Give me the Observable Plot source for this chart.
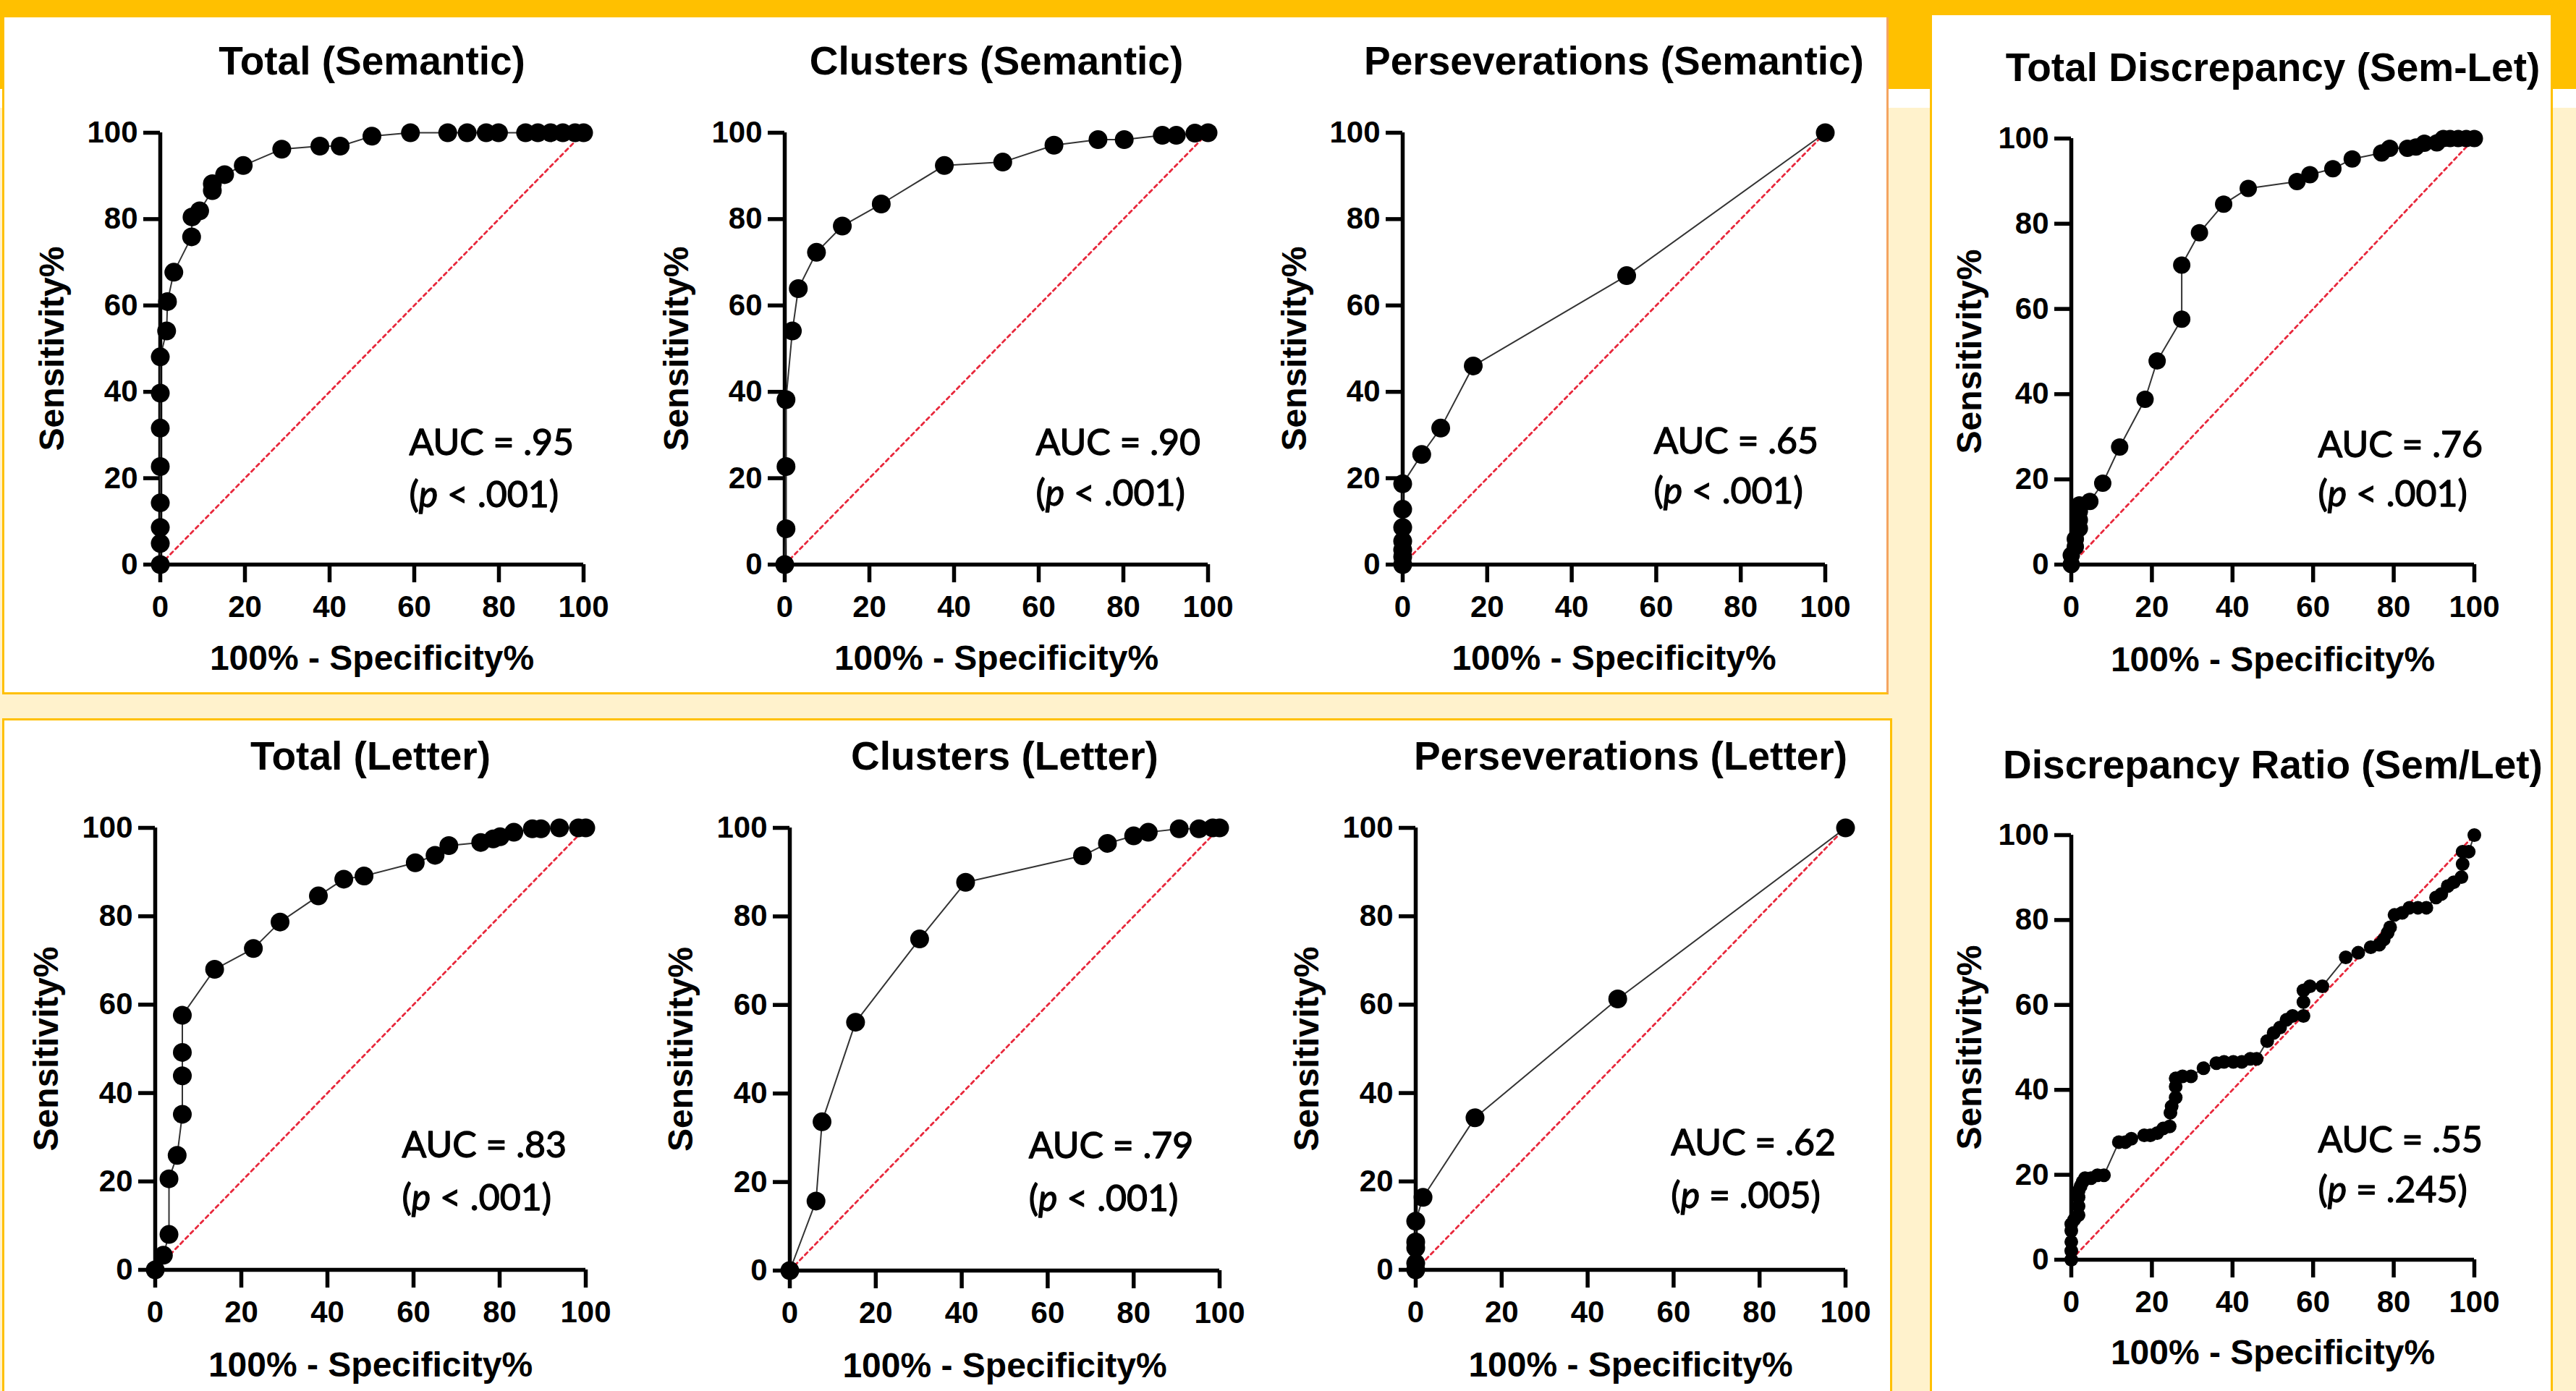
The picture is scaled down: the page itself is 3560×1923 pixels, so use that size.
<!DOCTYPE html>
<html><head><meta charset="utf-8">
<script src="https://cdn.jsdelivr.net/npm/d3@7"></script>
<script src="https://cdn.jsdelivr.net/npm/@observablehq/plot@0.6"></script>
<style>
html,body{margin:0;padding:0}
body{width:3560px;height:1923px;position:relative;overflow:hidden;background:#FFF2CC;font-family:"Liberation Sans",Arial,sans-serif}
.blk{position:absolute}
.panel{position:absolute;background:#fff;box-sizing:border-box;border:3px solid #FFC000}
.chart{position:absolute}
.chart svg{max-width:none;overflow:visible}
</style></head><body>
<div class="blk" style="left:0;top:0;width:3560px;height:123px;background:#FFC000"></div>
<div class="blk" style="left:0;top:123px;width:3560px;height:26px;background:#fff"></div>
<div class="panel" style="left:3px;top:24px;width:2607px;height:936px;border-top:none;border-right-color:#F4A460"></div>
<div class="panel" style="left:3px;top:993px;width:2612px;height:950px"></div>
<div class="panel" style="left:2667px;top:21px;width:861px;height:1922px;border-top:none"></div>
<div id="charts"></div>
<script>
// ---------- shared axis content ----------
const xTicks = [0, 20, 40, 60, 80, 100];
const yTicks = [0, 20, 40, 60, 80, 100];
const chanceLine = [0, 100];
const xLabel = "100% - Specificity%";
const yLabel = "Sensitivity%";

const titles = [
  "Total (Semantic)", "Clusters (Semantic)", "Perseverations (Semantic)", "Total Discrepancy (Sem-Let)",
  "Total (Letter)", "Clusters (Letter)", "Perseverations (Letter)", "Discrepancy Ratio (Sem/Let)"
];
const aucLabels = ["AUC = .95", "AUC = .90", "AUC = .65", "AUC = .76", "AUC = .83", "AUC = .79", "AUC = .62", "AUC = .55"];
const pLabels = ["(p < .001)", "(p < .001)", "(p < .001)", "(p < .001)", "(p < .001)", "(p < .001)", "(p = .005)", "(p = .245)"];

// ---------- ROC data: 100% - specificity (FPR) and sensitivity (TPR) ----------
const totalSemFPR = [0,0,0,0,0,0,0,0,1.5,1.7,3.2,7.4,7.5,9.3,12.3,12.3,15.2,19.6,28.7,37.7,42.5,50,59.1,67.9,72.5,77,79.9,86.3,89.2,92.2,95.1,98,100];
const totalSemTPR = [0,4.9,8.6,14.3,22.7,31.6,39.7,48.1,54.1,60.9,67.7,75.9,80.5,81.9,86.6,88.2,90.3,92.4,96.2,96.9,96.9,99.2,100,100,100,100,100,100,100,100,100,100,100];

const clustSemFPR = [0,0.3,0.3,0.3,1.8,3.2,7.5,13.6,22.8,37.7,51.5,63.6,74,80.2,89.2,92.5,96.9,100];
const clustSemTPR = [0,8.3,22.7,38.2,54.1,63.9,72.3,78.4,83.5,92.4,93.2,97.1,98.4,98.4,99.4,99.4,99.9,100];

const persSemFPR = [0,0,0,0,0,0,0,4.5,9.0,16.7,53,100];
const persSemTPR = [0,1.8,3.4,5.4,8.6,12.8,18.7,25.5,31.6,46,66.9,100];

const discSemLetFPR = [0,0,1,1,2,2,2,2,4.6,7.8,12,18.3,21.3,27.4,27.4,31.8,37.8,43.9,56,59.2,64.9,69.7,77,79,83.4,85.5,87.6,90.7,92.3,94,96,98,100];
const discSemLetTPR = [0,2.2,4.2,6,8.5,10.5,12.5,14,14.8,19.1,27.6,38.8,47.8,57.6,70.3,77.9,84.6,88.3,89.9,91.5,92.9,95.2,96.6,97.7,97.7,98,98.9,99,100,100,100,100,100];

const totalLetFPR = [0,1.9,3.2,3.2,5.1,6.3,6.3,6.3,6.3,13.8,22.8,29,37.9,43.8,48.5,60.4,65,68.2,75.6,78.5,80.1,83.3,87.6,89.6,93.9,98.3,100];
const totalLetTPR = [0,3.3,8,20.6,25.9,35.2,43.9,49.2,57.6,68,72.7,78.7,84.6,88.4,89.1,92.1,93.8,96,96.7,97.5,98,99,99.8,99.8,100,100,100];

const clustLetFPR = [0,6.1,7.5,15.3,30.2,40.9,68.1,73.9,80,83.4,90.6,95.2,98.4,100];
const clustLetTPR = [0,15.7,33.6,56.1,74.9,87.7,93.7,96.5,98.2,99,99.8,99.8,100,100];

const persLetFPR = [0,0,0,0,0,1.7,13.8,47,100];
const persLetTPR = [0,1.5,5,6.3,11,16.4,34.4,61.3,100];

const ratioFPR = [0,0,0,0,0,0.7,1.8,1.8,1.8,1.8,2.3,2.8,3.4,4.9,6.5,8.1,11.8,13.4,14.9,18.1,19.6,21.3,22.8,24.4,24.6,24.9,25.9,25.9,25.9,27.6,29.7,32.8,36,37.9,40.2,42.3,44.4,46,48.6,50.2,51.8,53.4,54.9,57.6,57.6,57.6,59.2,62.3,68.1,71.2,74.3,76.4,77.5,78.5,79.1,80.2,82.1,83.9,86,88.1,90.5,91.8,93.4,94.9,96.8,97.1,97.1,98.6,100];
const ratioTPR = [0,2.1,4.2,6.8,8.4,9.4,10.5,12.6,14.7,16.2,17.3,18.3,19.2,19.2,19.9,19.9,27.7,27.7,28.5,29.3,29.3,29.8,30.9,31.4,34.6,36.1,38.2,40.8,42.7,43.2,43.2,45.1,46.3,46.6,46.6,46.6,47.3,47.3,51.5,53.4,54.7,56.5,57.4,57.4,60.7,63.4,64.4,64.4,71.2,72.3,73.6,74.2,75.4,77,78.3,81.2,81.7,82.9,82.9,82.9,85.3,86.1,88,88.9,90.1,93.2,96.1,96.1,100];

const seriesFPR = [totalSemFPR, clustSemFPR, persSemFPR, discSemLetFPR, totalLetFPR, clustLetFPR, persLetFPR, ratioFPR];
const seriesTPR = [totalSemTPR, clustSemTPR, persSemTPR, discSemLetTPR, totalLetTPR, clustLetTPR, persLetTPR, ratioTPR];

// ---------- layout (page pixels) ----------
const layout = [
  {x0: 221,  y100: 182.5,  W: 585, H: 597, r: 13,   ax: 58.8, ay1: 28.0, ay2: 16.0, yOff: 149, tOff: 98, xOff: 130},
  {x0: 1084, y100: 182.5,  W: 585, H: 597, r: 13,   ax: 59.3, ay1: 28.0, ay2: 16.3, yOff: 149, tOff: 98, xOff: 130},
  {x0: 1938, y100: 182.5,  W: 584, H: 597, r: 13,   ax: 59.4, ay1: 28.4, ay2: 16.8, yOff: 149, tOff: 98, xOff: 130},
  {x0: 2862, y100: 190.6,  W: 557, H: 589, r: 12,   ax: 61.2, ay1: 27.9, ay2: 16.3, yOff: 140, tOff: 97, xOff: 132},
  {x0: 213.5,y100: 1144.3, W: 595, H: 611, r: 13,   ax: 57.3, ay1: 28.1, ay2: 16.1, yOff: 150, tOff: 98, xOff: 132},
  {x0: 1091, y100: 1144.3, W: 594, H: 612, r: 13,   ax: 55.6, ay1: 28.1, ay2: 16.1, yOff: 150, tOff: 98, xOff: 132},
  {x0: 1956, y100: 1144.3, W: 594, H: 611, r: 13,   ax: 59.4, ay1: 28.6, ay2: 16.6, yOff: 150, tOff: 98, xOff: 132},
  {x0: 2862, y100: 1153.5, W: 557, H: 587, r: 9.5,  ax: 61.2, ay1: 28.0, ay2: 16.2, yOff: 140, tOff: 96, xOff: 129}
];

const ML = 210, MT = 140, MR = 50, MB = 175;
const boldFont = "'Liberation Sans', Arial, sans-serif";
const aucFont = "Lato, 'Open Sans', sans-serif";
const container = document.getElementById("charts");

titles.forEach((title, i) => {
  const L = layout[i];
  const data = seriesFPR[i].map((x, j) => ({x, y: seriesTPR[i][j]}));
  const plot = Plot.plot({
    width: ML + L.W + MR,
    height: MT + L.H + MB,
    marginLeft: ML, marginTop: MT, marginRight: MR, marginBottom: MB,
    x: {domain: [0, 100], label: null},
    y: {domain: [0, 100], label: null},
    style: {background: "transparent", fontFamily: boldFont, fontSize: "42px", fontWeight: "bold", color: "#000", overflow: "visible"},
    marks: [
      Plot.line(chanceLine, {x: d => d, y: d => d, stroke: "#E8283C", strokeWidth: 2.8, strokeDasharray: "5 5"}),
      Plot.ruleX([0], {stroke: "#000", strokeWidth: 5.5}),
      Plot.ruleY([0], {stroke: "#000", strokeWidth: 5.5}),
      Plot.axisX({ticks: xTicks, tickSize: 25, tickPadding: 18, strokeWidth: 5.5, fontSize: 42, fontWeight: "bold", fill: "#000", label: null}),
      Plot.axisY({ticks: yTicks, tickSize: 23, tickPadding: 8, strokeWidth: 5.5, fontSize: 42, fontWeight: "bold", fill: "#000", label: null}),
      Plot.line(data, {x: "x", y: "y", stroke: "#333", strokeWidth: 2}),
      Plot.dot(data, {x: "x", y: "y", r: L.r, fill: "#000", stroke: "none"}),
      Plot.text([title], {frameAnchor: "top", dy: -L.tOff, fontSize: 55, fontWeight: "bold", fill: "#000", lineAnchor: "middle"}),
      Plot.text([xLabel], {frameAnchor: "bottom", dy: L.xOff, fontSize: 48, fontWeight: "bold", fill: "#000", lineAnchor: "middle"}),
      Plot.text([yLabel], {frameAnchor: "left", dx: -L.yOff, rotate: -90, fontSize: 48, fontWeight: "bold", fill: "#000", lineAnchor: "middle", textAnchor: "middle"}),
      Plot.text([aucLabels[i]], {x: L.ax, y: L.ay1, textAnchor: "start", lineAnchor: "middle", fontSize: 50, fontWeight: "normal", fontFamily: aucFont, fill: "#000", stroke: "#000", strokeWidth: 1.3}),
      Plot.text([pLabels[i]], {x: L.ax, y: L.ay2, textAnchor: "start", lineAnchor: "middle", fontSize: 50, fontWeight: "normal", fontFamily: aucFont, fill: "#000", stroke: "#000", strokeWidth: 1.3, className: "pval"})
    ]
  });
  // italic "p" inside the p-value label
  plot.querySelectorAll(".pval text").forEach(t => {
    const s = t.textContent;
    const m = s.match(/^\((p)(.*)$/);
    if (!m) return;
    t.textContent = "";
    const ns = "http://www.w3.org/2000/svg";
    const a = document.createElementNS(ns, "tspan"); a.textContent = "(";
    const b = document.createElementNS(ns, "tspan"); b.textContent = "p"; b.setAttribute("font-style", "italic");
    const c = document.createElementNS(ns, "tspan"); c.textContent = m[2];
    t.append(a, b, c);
  });
  const div = document.createElement("div");
  div.className = "chart";
  div.style.left = (L.x0 - ML) + "px";
  div.style.top = (L.y100 - MT) + "px";
  div.appendChild(plot);
  container.appendChild(div);
});
</script>
</body></html>
